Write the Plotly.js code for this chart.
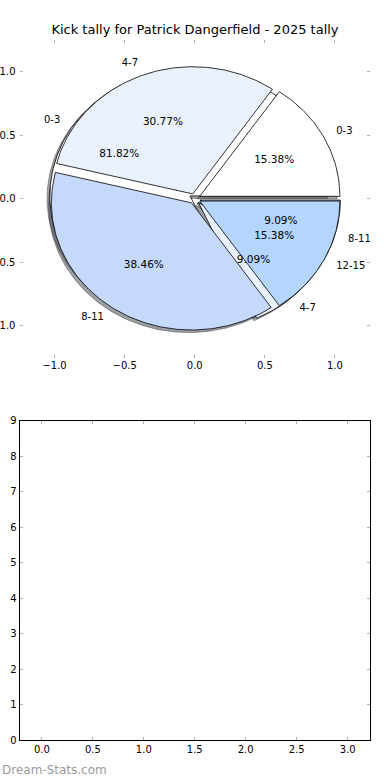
<!DOCTYPE html>
<html><head><meta charset="utf-8">
<script src="https://cdn.plot.ly/plotly-3.0.1.min.js"></script>
<style>html,body{margin:0;padding:0;background:#fff}#chart{width:390px;height:780px}</style>
</head><body><div id="chart"></div>
<script>
const chartTitle = 'Kick tally for Patrick Dangerfield - 2025 tally';
const pie1Labels = ['0-3', '4-7', '8-11'];
const pie1Values = [9, 1, 1];
const pie2Labels = ['0-3', '4-7', '8-11', '12-15'];
const pie2Values = [2, 4, 5, 2];
const sliceColors = ['#ffffff', '#e9f1fe', '#c5d9fd', '#b3d5fe'];
const pieTicks = [-1, -0.5, 0, 0.5, 1];
const lowerTicksX = [0, 0.5, 1, 1.5, 2, 2.5, 3];
const lowerTicksY = [0, 1, 2, 3, 4, 5, 6, 7, 8, 9];
const watermark = 'Dream-Stats.com';

const EXPLODE = 0.04, SHADOW_OFF = -0.02, RADIUS = 1, PCT_DIST = 0.6, LABEL_DIST = 1.1;

function wedges(values) {
  const total = values.reduce((a, b) => a + b, 0);
  let start = 0;
  return values.map(v => {
    const f = v / total;
    const t1 = start * 2 * Math.PI, t2 = (start + f) * 2 * Math.PI;
    const tm = (t1 + t2) / 2;
    start += f;
    return {f, t1, t2, tm, cx: EXPLODE * Math.cos(tm), cy: EXPLODE * Math.sin(tm)};
  });
}
function poly(w, dx, dy) {
  const xs = [w.cx + dx], ys = [w.cy + dy];
  const n = Math.max(2, Math.ceil((w.t2 - w.t1) / (Math.PI / 180)));
  for (let i = 0; i <= n; i++) {
    const t = w.t1 + (w.t2 - w.t1) * i / n;
    xs.push(w.cx + dx + RADIUS * Math.cos(t));
    ys.push(w.cy + dy + RADIUS * Math.sin(t));
  }
  xs.push(w.cx + dx); ys.push(w.cy + dy);
  return {xs, ys};
}
function shadowColor(hex) {
  const r = parseInt(hex.slice(1, 3), 16), g = parseInt(hex.slice(3, 5), 16), b = parseInt(hex.slice(5, 7), 16);
  return `rgba(${Math.round(r * 0.3)},${Math.round(g * 0.3)},${Math.round(b * 0.3)},0.5)`;
}

const pies = [
  {labels: pie1Labels, values: pie1Values, w: wedges(pie1Values)},
  {labels: pie2Labels, values: pie2Values, w: wedges(pie2Values)}
];

const traces = [];
// shadows (below all wedges)
pies.forEach(p => p.w.forEach((w, i) => {
  const q = poly(w, SHADOW_OFF, SHADOW_OFF);
  const c = shadowColor(sliceColors[i]);
  traces.push({type: 'scatter', mode: 'lines', x: q.xs, y: q.ys, fill: 'toself', fillcolor: c,
    line: {color: c, width: 1}, hoverinfo: 'skip', xaxis: 'x', yaxis: 'y'});
}));
// wedges
pies.forEach(p => p.w.forEach((w, i) => {
  const q = poly(w, 0, 0);
  traces.push({type: 'scatter', mode: 'lines', x: q.xs, y: q.ys, fill: 'toself', fillcolor: sliceColors[i],
    line: {color: '#000', width: 0.8}, hoverinfo: 'skip', xaxis: 'x', yaxis: 'y'});
}));
// texts
pies.forEach(p => {
  const total = p.values.reduce((a, b) => a + b, 0);
  traces.push({type: 'scatter', mode: 'text',
    x: p.w.map(w => w.cx + PCT_DIST * RADIUS * Math.cos(w.tm)),
    y: p.w.map(w => w.cy + PCT_DIST * RADIUS * Math.sin(w.tm)),
    text: p.values.map(v => (v / total * 100).toFixed(2) + '%'),
    textposition: 'middle center', textfont: {size: 10.5, color: '#000'},
    hoverinfo: 'skip', xaxis: 'x', yaxis: 'y'});
  const lx = p.w.map(w => w.cx + LABEL_DIST * RADIUS * Math.cos(w.tm));
  traces.push({type: 'scatter', mode: 'text',
    x: lx,
    y: p.w.map(w => w.cy + LABEL_DIST * RADIUS * Math.sin(w.tm)),
    text: p.labels,
    textposition: lx.map(x => x > 0 ? 'middle right' : 'middle left'),
    textfont: {size: 10, color: '#000'}, marker: {size: 0},
    hoverinfo: 'skip', xaxis: 'x', yaxis: 'y'});
});

const tickCommon = {ticks: 'inside', ticklen: 3, tickwidth: 1, tickcolor: '#b0b0b0', showgrid: false,
  zeroline: false, fixedrange: true, tickfont: {size: 10, color: '#000'}};

const layout = {
  width: 390, height: 780, margin: {l: 0, r: 0, t: 0, b: 0},
  paper_bgcolor: '#fff', plot_bgcolor: 'rgba(0,0,0,0)', showlegend: false,
  font: {family: 'DejaVu Sans', size: 10, color: '#000'},
  title: {text: chartTitle, x: 0.5, xanchor: 'center', y: 1 - 29.5 / 780, yanchor: 'middle',
    font: {size: 13, color: '#000', family: 'DejaVu Sans'}},
  xaxis: Object.assign({}, tickCommon, {domain: [0.05, 0.9487], range: [-1.25, 1.25], tickvals: pieTicks,
    tickformat: '.1f', showline: false, mirror: 'ticks', anchor: 'y'}),
  yaxis: Object.assign({}, tickCommon, {domain: [0.5415, 0.9491], range: [-1.25, 1.25], tickvals: pieTicks,
    tickformat: '.1f', showline: false, mirror: 'ticks', anchor: 'x', ticklabelstandoff: 3}),
  xaxis2: Object.assign({}, tickCommon, {domain: [0.05, 0.9487], range: [-0.22, 3.22], tickvals: lowerTicksX,
    tickformat: '.1f', showline: true, linecolor: '#000', linewidth: 1, mirror: 'ticks', anchor: 'y2'}),
  yaxis2: Object.assign({}, tickCommon, {domain: [0.0509, 0.4603], range: [0, 9], tickvals: lowerTicksY,
    tickformat: 'd', showline: true, linecolor: '#000', linewidth: 1, mirror: 'ticks', anchor: 'x2'}),
  annotations: [{text: watermark, xref: 'paper', yref: 'paper', x: 0, xanchor: 'left', y: 1 - 770 / 780,
    yanchor: 'middle', showarrow: false, font: {size: 12, color: '#9a9a9a', family: 'DejaVu Sans'}}]
};
// keep the lower axes visible with an empty trace
traces.push({type: 'scatter', mode: 'markers', x: [], y: [], xaxis: 'x2', yaxis: 'y2', hoverinfo: 'skip'});

Plotly.newPlot('chart', traces, layout, {displayModeBar: false, staticPlot: true});
</script>
</body></html>
